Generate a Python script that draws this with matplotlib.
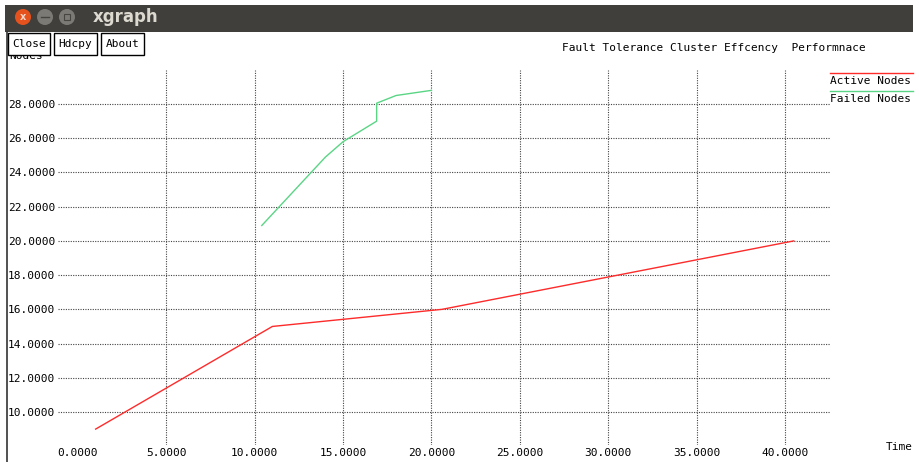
import matplotlib
matplotlib.use('Agg')
from matplotlib import pyplot as plt
from matplotlib.patches import Rectangle, Ellipse
from matplotlib.lines import Line2D

# data
active_x = [1.0, 11.0, 20.6, 40.5]
active_y = [9.0, 15.0, 16.0, 20.0]
failed_x = [10.4, 14.0, 15.0, 16.9, 16.9, 18.0, 20.0]
failed_y = [20.9, 24.9, 25.8, 27.0, 28.05, 28.5, 28.8]

x_ticks = [0, 5, 10, 15, 20, 25, 30, 35, 40]
y_ticks = [10, 12, 14, 16, 18, 20, 22, 24, 26, 28]
series_names = ['Active Nodes', 'Failed Nodes']
series_colors = ['#ff2a2a', '#5ad585']

W, H = 919, 462
mono = 'DejaVu Sans Mono'


def fx(px):
    return px / W


def fy(py):
    return 1 - py / H


def dot(cx, cy, col):
    fig.add_artist(Ellipse((fx(cx), fy(cy)), 16 / W, 16 / H, transform=fig.transFigure, color=col, lw=0))


fig = plt.figure(figsize=(W / 100, H / 100), dpi=100)
fig.patch.set_facecolor('white')

# window title bar
fig.add_artist(Rectangle((fx(5), fy(32)), fx(908), 27 / H, color='#413f3b', lw=0))
fig.add_artist(Line2D([fx(7), fx(7)], [fy(32), 0], color='#333333', lw=1.2))
dot(23, 17, '#e5521e')
fig.text(fx(23), fy(17.5), 'x', color='#f3d6c8', fontsize=7, ha='center', va='center', weight='bold')
dot(45, 17, '#7b7a75')
dot(67, 17, '#7b7a75')
fig.add_artist(Line2D([fx(41), fx(49)], [fy(17), fy(17)], color='#46453f', lw=1))
fig.add_artist(Rectangle((fx(64), fy(20)), 6 / W, 6 / H, fill=False, ec='#46453f', lw=0.8))
fig.text(fx(93), fy(17), 'xgraph', color='#dcd9d0', fontsize=12, weight='bold', ha='left', va='center')

# y label partly hidden behind the buttons
fig.text(fx(9), fy(56), 'Nodes', family=mono, fontsize=8, ha='left', va='center')

# buttons
for label, x0, x1 in [('Close', 8, 50), ('Hdcpy', 54, 97), ('About', 101, 144)]:
    fig.add_artist(Rectangle((fx(x0), fy(55)), fx(x1 - x0), 22 / H, fc='white', ec='black', lw=1, zorder=5))
    fig.text(fx((x0 + x1) / 2), fy(44), label, family=mono, fontsize=8, ha='center', va='center', zorder=6)

fig.text(fx(562), fy(48), 'Fault Tolerance Cluster Effcency  Performnace', family=mono, fontsize=8,
         ha='left', va='center')

# plot area
ax = fig.add_axes([fx(58), fy(445), fx(830 - 58), (445 - 70) / H])
ax.set_xlim(-1.13, 42.55)
ax.set_ylim(8.07, 29.99)
for s in ax.spines.values():
    s.set_visible(False)

ax.plot(active_x, active_y, color=series_colors[0], lw=1)
ax.plot(failed_x, failed_y, color=series_colors[1], lw=1)

for xv in x_ticks[1:]:
    ax.axvline(xv, color='#444444', lw=0.8, ls=(0, (1, 1.2)), zorder=0)
for yv in y_ticks:
    ax.axhline(yv, color='#444444', lw=0.8, ls=(0, (1, 1.2)), zorder=0)

ax.set_xticks(x_ticks)
ax.set_xticklabels(['%.4f' % v for v in x_ticks], family=mono, fontsize=8)
ax.set_yticks(y_ticks)
ax.set_yticklabels(['%.4f' % v for v in y_ticks], family=mono, fontsize=8)
ax.tick_params(length=0, pad=2)

fig.text(fx(886), fy(447), 'Time', family=mono, fontsize=8, ha='left', va='center')

# legend
for i, (name, col) in enumerate(zip(series_names, series_colors)):
    ly = 73 + 18 * i
    fig.add_artist(Line2D([fx(830), fx(913)], [fy(ly), fy(ly)], color=col, lw=1))
    fig.text(fx(830), fy(ly + 8), name, family=mono, fontsize=8, ha='left', va='center')

fig.savefig('out.png', dpi=100)
